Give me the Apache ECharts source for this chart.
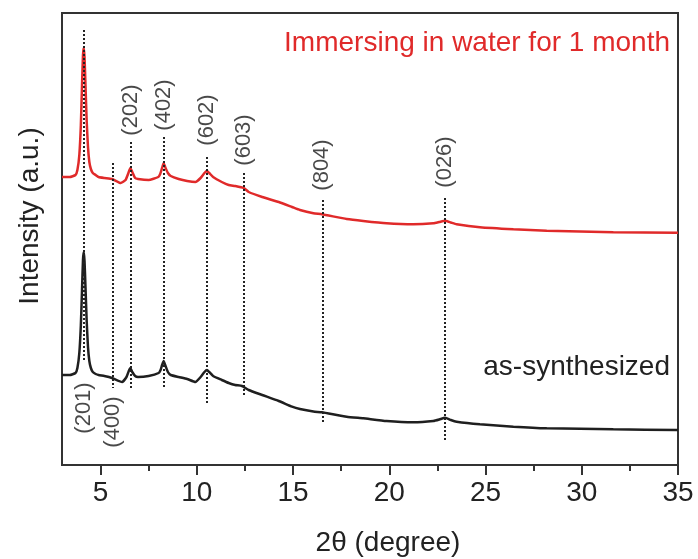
<!DOCTYPE html>
<html>
<head>
<meta charset="utf-8">
<script src="https://cdn.jsdelivr.net/npm/echarts@6/dist/echarts.min.js"></script>
<style>html,body{margin:0;padding:0;background:#fff;}#c{width:698px;height:559px;}</style>
</head>
<body>
<div id="c"></div>
<script>
// 2θ (degree) and intensity (a.u.)
const redTheta = [3.0,3.4,3.7,3.8,3.9,3.98,4.04,4.09,4.13,4.17,4.22,4.28,4.35,4.42,4.5,4.6,4.75,4.9,5.2,5.6,6.05,6.3,6.45,6.55,6.65,6.8,6.95,7.5,8.0,8.1,8.2,8.28,8.36,8.5,8.65,9.06,9.5,9.93,10.2,10.4,10.53,10.65,10.85,11.3,11.66,12.0,12.44,12.7,13.4,14.26,14.95,15.36,16.06,16.5,17.79,18.65,19.86,21.25,22.29,22.6,22.9,23.2,23.5,24.71,26.45,28.18,31.64,34.93,35.0];
const redInt   = [288,288,290,295,310,340,380,410,417,408,380,345,318,303,296,292,290,288,287,286,282,285,292,297,293,287,286,285,288,291,297,302,298,292,289,286,284,283,287,292,294,292,288,283,280,279,277,273,268,263,258,255,251.7,250.7,246,244,241.7,240.7,241.7,243,244.3,242.5,240.7,237.7,235.7,234.3,232.7,232.3,232.3];
const blackTheta = [3.0,3.4,3.7,3.8,3.9,3.98,4.04,4.09,4.13,4.17,4.22,4.28,4.35,4.42,4.5,4.6,4.75,4.9,5.2,5.6,6.12,6.35,6.47,6.55,6.65,6.8,6.95,7.5,8.02,8.12,8.2,8.28,8.36,8.5,8.65,9.06,9.5,9.93,10.2,10.4,10.53,10.65,10.85,11.3,11.66,12.0,12.35,12.7,13.4,14.26,14.95,15.36,16.06,16.5,17.79,18.65,19.86,21.25,22.29,22.6,22.9,23.2,23.5,24.71,26.45,28.18,31.64,34.93,35.0];
const blackInt   = [90,90,92,97,112,140,175,205,213,204,178,145,118,104,97,93,91,90,89,87,83,88,94,97,93,89,88,89,92,95,100,104,100,93,90,88,86,83,88,93,95,93,89,85,82,80,79,75,70,64,58.3,56,53.5,52.7,48.3,46.7,44,42.7,44,45.5,47.3,45,43.3,40.7,38.3,36.7,35.7,35,35];

// reflection markers: position, dotted line top/bottom, label and label centre
const peakTheta  = [4.14, 5.63, 6.57, 8.31, 10.52, 12.44, 16.52, 22.9];
const peakTop    = [435, 302, 323, 328, 308, 292, 265, 267];
const peakBottom = [105, 77, 75, 78, 60, 68, 41, 25];
const peakLabels = ['(201)','(400)','(202)','(402)','(602)','(603)','(804)','(026)'];
const labelY     = [57, 43, 355, 360, 345, 325, 300, 303];

const majorTicks = [5,10,15,20,25,30,35];
const minorTicks = [7.5,12.5,17.5,22.5,27.5,32.5];

const FONT = '"Liberation Sans", Arial, sans-serif';
const zip = (a,b) => a.map((v,i)=>[v,b[i]]);

const chart = echarts.init(document.getElementById('c'), null, {renderer:'canvas'});

const markLines = peakTheta.map((t,i)=>[{coord:[t,peakTop[i]]},{coord:[t,peakBottom[i]]}]);

chart.setOption({
  animation:false,
  backgroundColor:'#fff',
  grid:{left:62, right:20, top:13, bottom:94, show:true, borderColor:'#333', borderWidth:2, backgroundColor:'transparent'},
  xAxis:[{
    type:'value', min:3, max:35,
    axisLine:{show:true, onZero:false, lineStyle:{color:'#333', width:2}},
    axisTick:{show:true, inside:false, length:10, lineStyle:{color:'#333', width:2}, customValues:majorTicks},
    axisLabel:{show:true, customValues:majorTicks, fontSize:28, color:'#222', fontFamily:FONT, margin:14},
    splitLine:{show:false}
  },{
    type:'value', min:3, max:35, position:'bottom',
    axisLine:{show:false},
    axisTick:{show:true, inside:false, length:6, lineStyle:{color:'#333', width:2}, customValues:minorTicks},
    axisLabel:{show:false},
    splitLine:{show:false}
  }],
  yAxis:{type:'value', min:0, max:452, show:false, splitLine:{show:false}},
  series:[
    {type:'line', name:'immersed', data:zip(redTheta,redInt), showSymbol:false, symbol:'none', smooth:0.15,
     lineStyle:{color:'#e02a2a', width:2.5}, z:3,
     markLine:{silent:true, symbol:'none', animation:false,
       lineStyle:{color:'#222', width:2, type:[2,2]}, label:{show:false}, data:markLines}},
    {type:'line', name:'as-synthesized', data:zip(blackTheta,blackInt), showSymbol:false, symbol:'none', smooth:0.15,
     lineStyle:{color:'#1f1f1f', width:2.5}, z:3},
    {type:'scatter', symbolSize:0, data:peakTheta.map((t,i)=>({value:[t,labelY[i]], name:peakLabels[i]})),
     label:{show:true, position:'inside', rotate:90, formatter:p=>p.name, fontSize:22, color:'#1a1a1a', fontFamily:FONT}, z:4}
  ],
  graphic:[
    {type:'text', x:670, y:43, style:{text:'Immersing in water for 1 month', fill:'#e02a2a', font:'28px '+FONT, textAlign:'right', textVerticalAlign:'middle'}},
    {type:'text', x:670, y:367, style:{text:'as-synthesized', fill:'#222', font:'28px '+FONT, textAlign:'right', textVerticalAlign:'middle'}},
    {type:'text', x:388, y:543, style:{text:'2θ (degree)', fill:'#222', font:'28px '+FONT, textAlign:'center', textVerticalAlign:'middle'}},
    {type:'text', x:30, y:216, rotation:Math.PI/2, style:{text:'Intensity (a.u.)', fill:'#222', font:'28px '+FONT, textAlign:'center', textVerticalAlign:'middle'}}
  ]
});
</script>
</body>
</html>
